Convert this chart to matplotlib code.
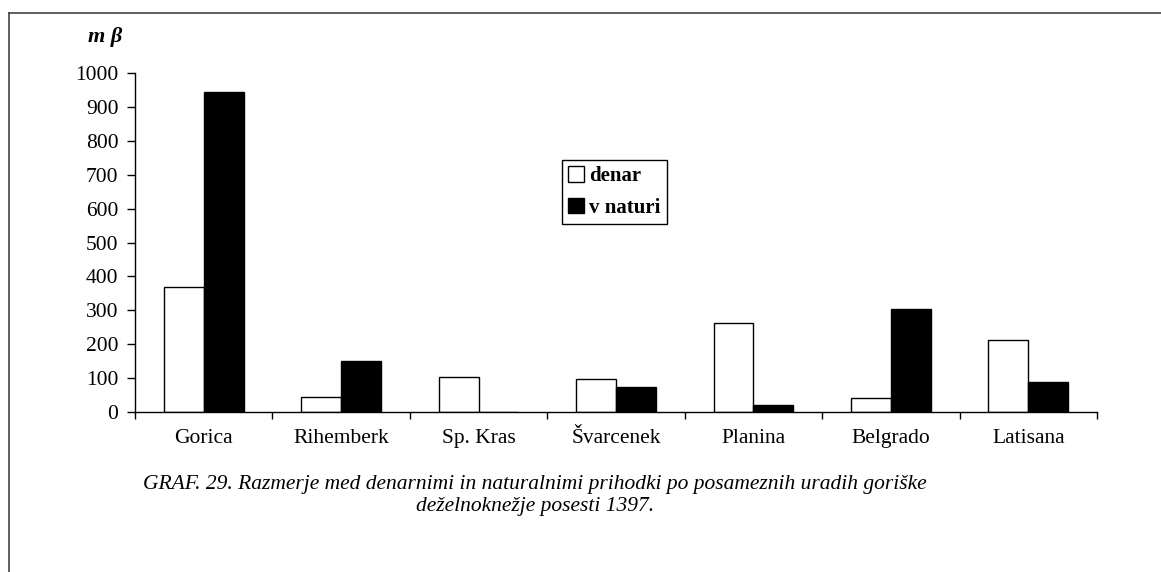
import numpy as np
import matplotlib.pyplot as plt
from matplotlib.lines import Line2D
from matplotlib.patches import Patch

categories = ['Gorica', 'Rihemberk', 'Sp. Kras', 'Švarcenek', 'Planina', 'Belgrado', 'Latisana']
denar = [370, 44, 102, 97, 262, 41, 213]
v_naturi = [945, 150, 0, 75, 20, 304, 89]
yticks = list(range(0, 1001, 100))

plt.rcParams['font.family'] = ['Liberation Serif', 'DejaVu Serif']

W, H = 1161, 572
fig = plt.figure(figsize=(W / 100, H / 100), dpi=100)
ax = fig.add_axes([135 / W, 1 - 412 / H, (1097 - 135) / W, (412 - 73) / H])

x = np.arange(len(categories))
bw = 0.29
ax.bar(x - bw / 2, denar, bw, color='white', edgecolor='black', linewidth=1.0, label='denar')
ax.bar(x + bw / 2, v_naturi, bw, color='black', edgecolor='black', linewidth=1.0, label='v naturi')

ax.set_xlim(-0.5, len(categories) - 0.5)
ax.set_ylim(0, 1000)
ax.set_yticks(yticks)
ax.set_yticklabels([str(v) for v in yticks], fontsize=15.5)
ax.set_xticks(x)
ax.set_xticklabels(categories, fontsize=15.5)
ax.set_xticks(np.arange(len(categories) + 1) - 0.5, minor=True)
ax.tick_params(axis='x', which='major', length=0, pad=12)
ax.tick_params(axis='x', which='minor', length=5, direction='out', width=1)
ax.tick_params(axis='y', length=6, direction='out', width=1, pad=6)
for s in ['top', 'right']:
    ax.spines[s].set_visible(False)
for s in ['left', 'bottom']:
    ax.spines[s].set_linewidth(1.0)

ax.text(-0.013, 1.106, 'm β', transform=ax.transAxes, fontsize=16,
        fontweight='bold', style='italic', ha='right', va='center')

handles = [Patch(facecolor='white', edgecolor='black', label='denar'),
           Patch(facecolor='black', edgecolor='black', label='v naturi')]
leg = fig.legend(handles=handles, loc='upper left', bbox_to_anchor=(562 / W, 1 - 160 / H),
                 frameon=True, fancybox=False, edgecolor='black', framealpha=1,
                 prop={'weight': 'bold', 'size': 15}, handlelength=0.75, handleheight=0.75,
                 handletextpad=0.25, borderpad=0.3, labelspacing=0.55, borderaxespad=0)
leg.get_frame().set_linewidth(1.0)

fig.text(535 / W, 1 - 485 / H, 'GRAF. 29. Razmerje med denarnimi in naturalnimi prihodki po posameznih uradih goriške',
         ha='center', va='center', fontsize=15.5, style='italic')
fig.text(535 / W, 1 - 507 / H, 'deželnoknežje posesti 1397.',
         ha='center', va='center', fontsize=15.5, style='italic')

# page frame
fig.add_artist(Line2D([9 / W, 9 / W], [0, 1 - 13 / H], transform=fig.transFigure, color='#444444', lw=1.2))
fig.add_artist(Line2D([9 / W, 1], [1 - 13 / H, 1 - 13 / H], transform=fig.transFigure, color='#444444', lw=1.2))

fig.savefig('out.png', dpi=100, facecolor='white')
